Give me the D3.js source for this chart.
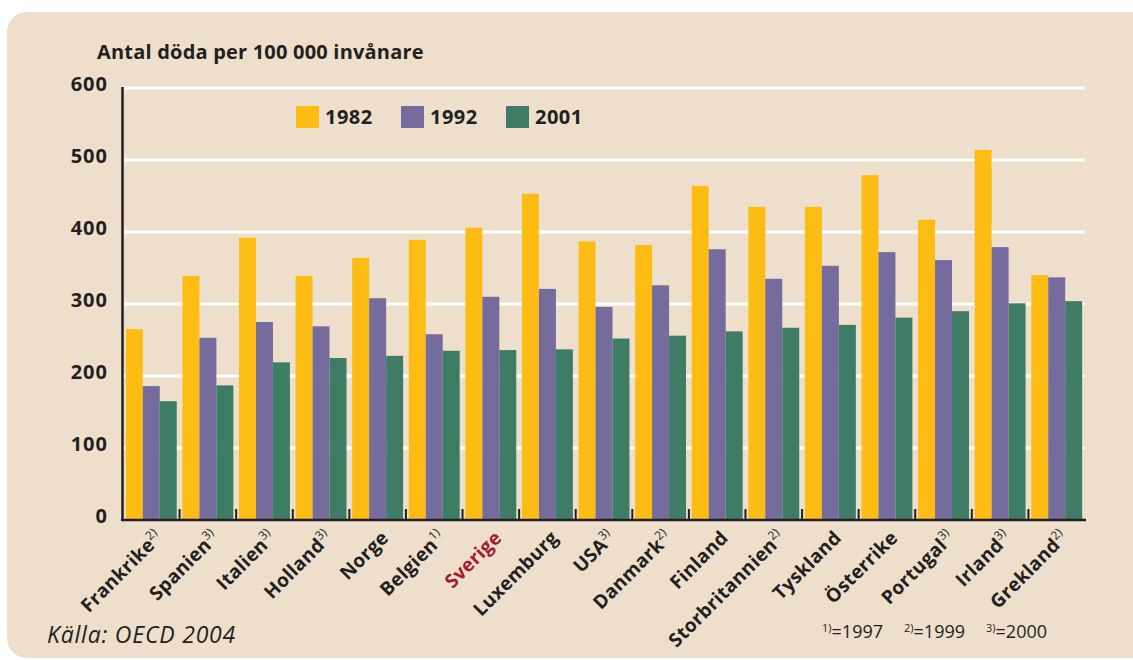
<!DOCTYPE html>
<html>
<head>
<meta charset="utf-8">
<script src="https://cdn.jsdelivr.net/npm/d3@7"></script>
<style>
  body { margin: 0; background: #fff; }
  svg text { font-family: "Open Sans", Lato, sans-serif; fill: #231f20; }
</style>
</head>
<body>
<div id="chart"></div>
<script>
// data
const countries = ["Frankrike", "Spanien", "Italien", "Holland", "Norge", "Belgien", "Sverige", "Luxemburg", "USA", "Danmark", "Finland", "Storbritannien", "Tyskland", "Österrike", "Portugal", "Irland", "Grekland"];
const notes = ["2)", "3)", "3)", "3)", "", "1)", "", "", "3)", "2)", "", "2)", "", "", "3)", "3)", "2)"];
const years = ["1982", "1992", "2001"];
const v1982 = [265, 339, 392, 339, 364, 389, 406, 453, 387, 382, 464, 435, 435, 479, 417, 514, 340];
const v1992 = [186, 253, 275, 269, 308, 258, 310, 321, 296, 326, 376, 335, 353, 372, 361, 379, 337];
const v2001 = [165, 187, 219, 225, 228, 235, 236, 237, 252, 256, 262, 267, 271, 281, 290, 301, 304];
const yTicks = [0, 100, 200, 300, 400, 500, 600];
const footnotes = [["1)", "=1997"], ["2)", "=1999"], ["3)", "=2000"]];

const colors = ["#fcbc14", "#756b9c", "#3e7c66"];
const width = 1133, height = 660;

const svg = d3.select("#chart").append("svg")
    .attr("width", width)
    .attr("height", height);

// beige panel
svg.append("rect")
    .attr("x", 7).attr("y", 12)
    .attr("width", 1160).attr("height", 646)
    .attr("rx", 20)
    .attr("fill", "#eddfcc");

const x = d3.scaleBand()
    .domain(countries)
    .range([123, 1085])
    .paddingInner(0.1)
    .paddingOuter(0.05);

const x1 = d3.scaleBand()
    .domain(years)
    .range([0, x.bandwidth()]);

const y = d3.scaleLinear()
    .domain([0, 600])
    .range([520, 88]);

// grid
svg.append("g").selectAll("line")
    .data(yTicks.slice(1))
    .enter().append("line")
    .attr("x1", 123).attr("x2", 1085)
    .attr("y1", d => y(d)).attr("y2", d => y(d))
    .attr("stroke", "#fff")
    .attr("stroke-width", 3);

// y labels
const yAxis = svg.append("g")
    .attr("transform", "translate(112,-4)")
    .call(d3.axisLeft(y).tickValues(yTicks).tickSize(0).tickPadding(4));
yAxis.select(".domain").remove();
yAxis.selectAll("text")
    .style("font-family", "'Open Sans', sans-serif")
    .style("font-size", "20px")
    .style("font-weight", "700")
    .style("letter-spacing", "1px")
    .attr("fill", "#231f20");

// bars
const rows = countries.map((c, i) => ({ country: c, values: [v1982[i], v1992[i], v2001[i]] }));
const groups = svg.append("g").selectAll("g")
    .data(rows)
    .enter().append("g")
    .attr("transform", d => `translate(${x(d.country)},0)`);

groups.selectAll("rect")
    .data(d => d.values.map((v, j) => ({ year: years[j], value: v, j: j })))
    .enter().append("rect")
    .attr("x", d => x1(d.year))
    .attr("width", x1.bandwidth())
    .attr("y", d => y(d.value))
    .attr("height", d => y(0) - y(d.value))
    .attr("fill", d => colors[d.j]);

// axes lines
svg.append("line")
    .attr("x1", 122.5).attr("x2", 122.5)
    .attr("y1", 87).attr("y2", 521)
    .attr("stroke", "#231f20").attr("stroke-width", 2.5);
svg.append("line")
    .attr("x1", 121).attr("x2", 1086)
    .attr("y1", 520).attr("y2", 520)
    .attr("stroke", "#231f20").attr("stroke-width", 2.5);

// small ticks between groups
const gap = x.step() * x.paddingInner();
svg.append("g").selectAll("line")
    .data(countries.slice(1))
    .enter().append("line")
    .attr("x1", d => x(d) - gap / 2).attr("x2", d => x(d) - gap / 2)
    .attr("y1", 509).attr("y2", 520)
    .attr("stroke", "#231f20").attr("stroke-width", 2);

// category labels
const labels = svg.append("g").selectAll("text")
    .data(rows.map((r, i) => ({ country: r.country, note: notes[i] })))
    .enter().append("text")
    .attr("transform", d => `translate(${x(d.country) + x.bandwidth() / 2 + 12},539) rotate(-45)`)
    .attr("text-anchor", "end")
    .style("font-size", "19px")
    .style("font-weight", "700")
    .style("letter-spacing", "0.3px")
    .attr("fill", d => d.country === "Sverige" ? "#a51d2d" : "#231f20");
labels.append("tspan")
    .style("fill", d => d.country === "Sverige" ? "#a51d2d" : "#231f20")
    .text(d => d.country);
labels.append("tspan")
    .attr("dy", -8)
    .style("font-size", "12px")
    .style("font-weight", "400")
    .style("letter-spacing", "0px")
    .text(d => d.note);

// title
svg.append("text")
    .attr("x", 97).attr("y", 59)
    .style("font-size", "20px")
    .style("font-weight", "700")
    .style("letter-spacing", "0.2px")
    .text("Antal döda per 100 000 invånare");

// legend
const legend = svg.append("g").selectAll("g")
    .data(years)
    .enter().append("g")
    .attr("transform", (d, i) => `translate(${296 + i * 105},106)`);
legend.append("rect")
    .attr("width", 23).attr("height", 22)
    .attr("fill", (d, i) => colors[i]);
legend.append("text")
    .attr("x", 29).attr("y", 18)
    .style("font-size", "20px")
    .style("font-weight", "700")
    .style("letter-spacing", "0.5px")
    .text(d => d);

// source
svg.append("text")
    .attr("x", 47).attr("y", 643)
    .style("font-size", "23px")
    .style("font-style", "italic")
    .style("letter-spacing", "0.8px")
    .text("Källa: OECD 2004");

// footnotes
const fn = svg.append("g").selectAll("text")
    .data(footnotes)
    .enter().append("text")
    .attr("x", (d, i) => 822 + i * 82)
    .attr("y", 638)
    .style("font-size", "18px");
fn.append("tspan")
    .attr("dy", -6)
    .style("font-size", "11px")
    .text(d => d[0]);
fn.append("tspan")
    .attr("dy", 6)
    .text(d => d[1]);
</script>
</body>
</html>
